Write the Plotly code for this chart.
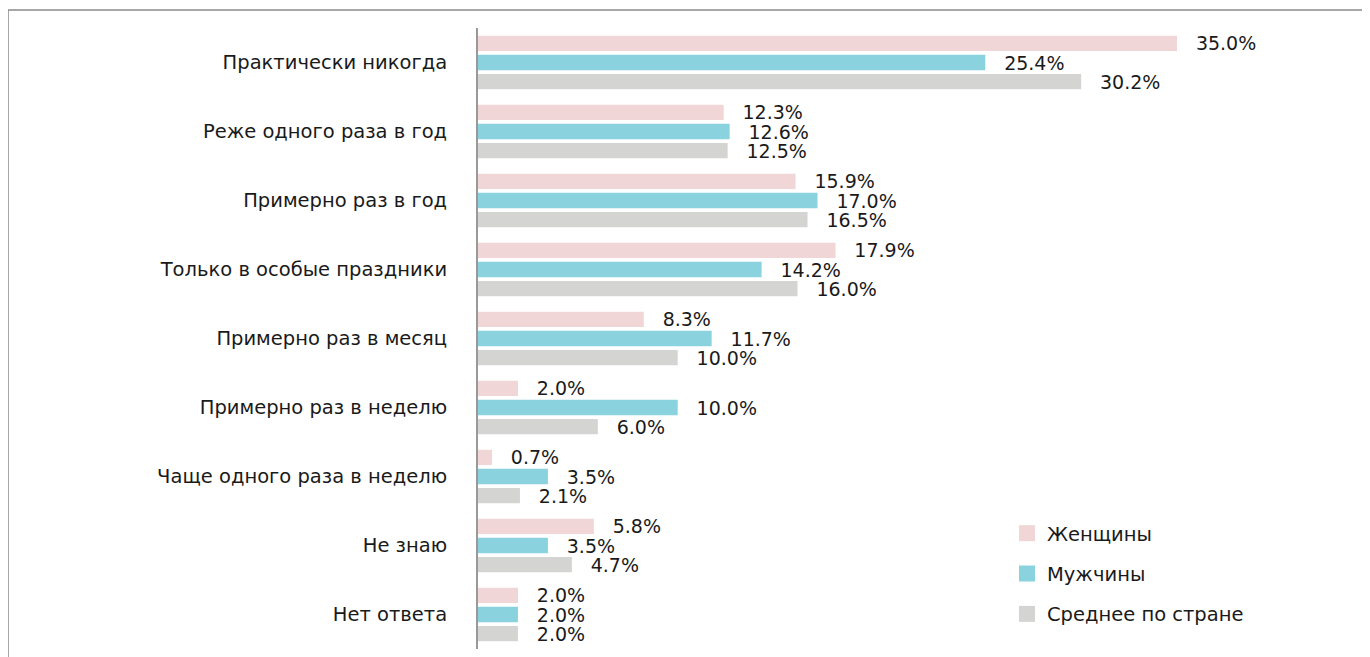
import plotly.graph_objects as go

categories = [
    "Практически никогда",
    "Реже одного раза в год",
    "Примерно раз в год",
    "Только в особые праздники",
    "Примерно раз в месяц",
    "Примерно раз в неделю",
    "Чаще одного раза в неделю",
    "Не знаю",
    "Нет ответа",
]
women = [35.0, 12.3, 15.9, 17.9, 8.3, 2.0, 0.7, 5.8, 2.0]
men = [25.4, 12.6, 17.0, 14.2, 11.7, 10.0, 3.5, 3.5, 2.0]
country = [30.2, 12.5, 16.5, 16.0, 10.0, 6.0, 2.1, 4.7, 2.0]

series = [
    ("Женщины", women, "#F0D6D6"),
    ("Мужчины", men, "#8AD2DE"),
    ("Среднее по стране", country, "#D4D5D2"),
]

FONT = "DejaVu Sans"
TXT = "#1a1a1a"

# page is drawn with an 8px offset; 35% bar is ~699px long
L, R, T, B = 470, 20, 20, 16
W = 1370 - L - R
H = 657 - T - B
xmax = 35 * W / 699

fig = go.Figure()
for name, vals, color in series:
    fig.add_trace(go.Bar(
        y=categories, x=vals, name=name, orientation="h",
        marker=dict(color=color, line=dict(width=0)),
        texttemplate="\u00a0\u00a0\u2009%{x:.1f}%",
        textposition="outside",
        constraintext="none",
        cliponaxis=False,
        textfont=dict(family=FONT, size=19, color=TXT),
        showlegend=False,
    ))

# legend-only entries with larger square swatches
for name, vals, color in series:
    fig.add_trace(go.Scatter(
        x=[None], y=[None], mode="markers", name=name,
        marker=dict(symbol="square", size=17, color=color),
        legendgroup=name,
    ))

fig.update_layout(
    width=1370, height=657,
    barmode="group", bargap=0.17, bargroupgap=0.2,
    paper_bgcolor="white", plot_bgcolor="white",
    margin=dict(l=L, r=R, t=T, b=B),
    font=dict(family=FONT, size=18, color=TXT),
    showlegend=True,
    legend=dict(
        x=(999 - L) / W, y=(641 - 506) / H, xanchor="left", yanchor="top",
        font=dict(family=FONT, size=19.5, color=TXT),
        tracegroupgap=12,
        bgcolor="rgba(0,0,0,0)",
    ),
    xaxis=dict(range=[0, xmax], visible=False, showgrid=False),
    yaxis=dict(
        autorange="reversed", showline=True, linecolor="#999999", linewidth=2,
        showgrid=False, ticks="", ticklabelstandoff=25,
        tickfont=dict(family=FONT, size=19.5, color=TXT),
    ),
    shapes=[dict(
        type="rect", xref="paper", yref="paper",
        x0=(0 - L) / W, x1=2.0, y0=-0.5, y1=1 + 18 / H,
        line=dict(color="#8a8a8a", width=1.5),
    )],
)

fig.write_html("out.html")
